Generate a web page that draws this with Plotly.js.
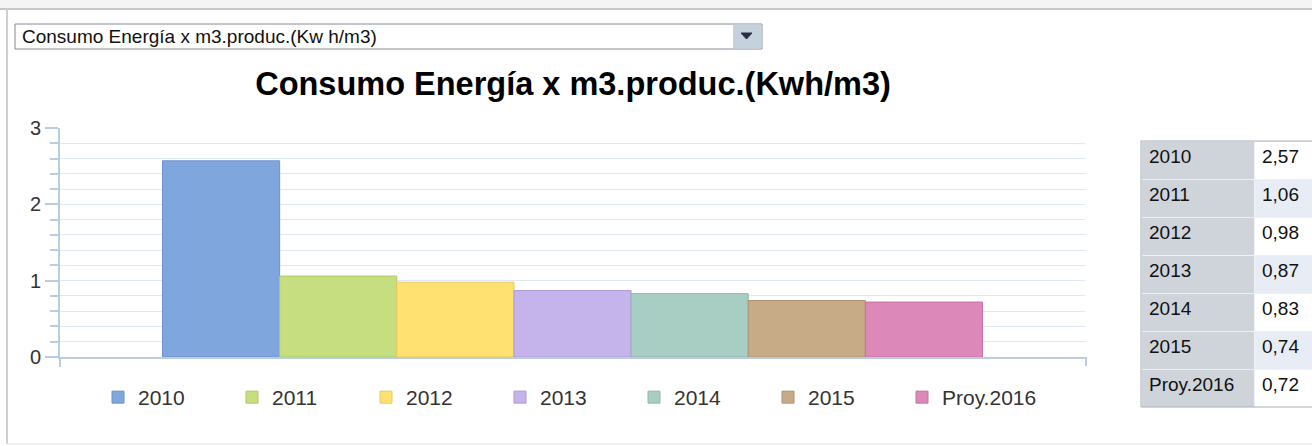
<!DOCTYPE html>
<html>
<head>
<meta charset="utf-8">
<script src="https://cdn.plot.ly/plotly-3.0.1.min.js"></script>
<style>
html,body{margin:0;padding:0;background:#fff;}
#chart{width:1312px;height:446px;}
</style>
</head>
<body>
<div id="chart"></div>
<script>
// ---- data ----
const years = ["2010", "2011", "2012", "2013", "2014", "2015", "Proy.2016"];
const values = [2.57, 1.06, 0.98, 0.87, 0.83, 0.74, 0.72];
const valueLabels = ["2,57", "1,06", "0,98", "0,87", "0,83", "0,74", "0,72"];
const barColors = ["#7fa7dd", "#c6dd80", "#fee170", "#c5b3ec", "#a8cdc3", "#c7aa86", "#dc88b9"];
const barLines = ["#6c93cb", "#afc86a", "#e6c95e", "#ad9ad6", "#90b7ac", "#ae9270", "#c672a3"];
const chartTitle = "Consumo Energía x m3.produc.(Kwh/m3)";
const selectorText = "Consumo Energía x m3.produc.(Kw h/m3)";
const yTicks = [0, 1, 2, 3];

const W = 1312, H = 446;
const px = x => x / W;
const py = y => 1 - y / H;
const FONT = "Liberation Sans, Arial, sans-serif";

const traces = years.map((yr, i) => ({
  type: "bar",
  name: yr,
  x: [""],
  y: [values[i]],
  marker: { color: barColors[i], line: { color: barLines[i], width: 1 } },
  hoverinfo: "name+y",
  xaxis: "x", yaxis: "y"
}));

// table: first row is used as the header so no empty header row appears
const rightFill = years.map((_, i) => (i % 2 === 0 ? "#ffffff" : "#e8edf5"));
const leftFill = years.map(() => "#cfd4da");
const cellFont = { family: FONT, size: 19, color: "#111" };
traces.push({
  type: "table",
  domain: { x: [px(1141), 1], y: [py(407), py(141)] },
  columnwidth: [113, 58],
  header: {
    values: [[years[0]], [valueLabels[0]]],
    height: 38,
    align: ["left", "left"],
    fill: { color: [leftFill[0], rightFill[0]] },
    line: { color: "#eef0f3", width: 1 },
    font: cellFont
  },
  cells: {
    values: [years.slice(1), valueLabels.slice(1)],
    height: 38,
    align: ["left", "left"],
    fill: { color: [leftFill.slice(1), rightFill.slice(1)] },
    line: { color: "#eef0f3", width: 1 },
    font: cellFont
  }
});

const axisCol = "#b9cce0";
const layout = {
  width: W, height: H,
  margin: { l: 0, r: 0, t: 0, b: 0 },
  paper_bgcolor: "#ffffff", plot_bgcolor: "rgba(0,0,0,0)",
  font: { family: FONT, color: "#333" },
  title: {
    text: "<b>" + chartTitle + "</b>",
    x: px(573), xanchor: "center", xref: "paper",
    y: py(84), yanchor: "middle", yref: "paper",
    font: { family: FONT, size: 32.5, color: "#000" }
  },
  barmode: "group", bargap: 0.2, bargroupgap: 0,
  showlegend: true,
  legend: {
    orientation: "h", x: px(98), xanchor: "left", y: py(377), yanchor: "top",
    entrywidth: 89, entrywidthmode: "pixels",
    font: { size: 21, color: "#333" },
    bgcolor: "rgba(0,0,0,0)", traceorder: "normal"
  },
  xaxis: {
    domain: [px(60), px(1085)],
    showticklabels: false, ticks: "",
    showline: true, linecolor: axisCol, linewidth: 2,
    showgrid: false, zeroline: false, fixedrange: true
  },
  yaxis: {
    domain: [py(357), py(128)],
    range: [0, 3], tickmode: "array", tickvals: yTicks, ticktext: yTicks.map(String),
    ticks: "outside", ticklen: 13, tickwidth: 2, tickcolor: axisCol,
    showline: true, linecolor: axisCol, linewidth: 2,
    showgrid: true, gridcolor: "#dfe8f3", gridwidth: 1,
    zeroline: false,
    tickfont: { size: 20, color: "#333" },
    minor: { dtick: 0.2, ticks: "outside", ticklen: 8, tickwidth: 2, tickcolor: axisCol, showgrid: true, gridcolor: "#dfe8f3", gridwidth: 1 },
    fixedrange: true
  },
  shapes: [
    // outer frame
    { type: "rect", xref: "paper", yref: "paper", x0: 0, x1: 1, y0: py(9), y1: 1, fillcolor: "#f4f4f4", line: { width: 0 }, layer: "below" },
    { type: "line", xref: "paper", yref: "paper", x0: 0, x1: 1, y0: py(9), y1: py(9), line: { color: "#c6c6c6", width: 2 } },
    { type: "line", xref: "paper", yref: "paper", x0: px(7), x1: px(7), y0: py(9), y1: py(444), line: { color: "#cfcfcf", width: 2 } },
    { type: "line", xref: "paper", yref: "paper", x0: px(7), x1: 1, y0: py(444), y1: py(444), line: { color: "#e2e2e2", width: 1 } },
    // axis extensions
    { type: "line", xref: "paper", yref: "paper", x0: px(60), x1: px(60), y0: py(357), y1: py(367), line: { color: axisCol, width: 2 } },
    { type: "line", xref: "paper", yref: "paper", x0: px(1086), x1: px(1086), y0: py(357), y1: py(366), line: { color: axisCol, width: 2 } },
    // selector box
    { type: "rect", xref: "paper", yref: "paper", x0: px(15), x1: px(762), y0: py(49), y1: py(24), fillcolor: "#ffffff", line: { color: "#858a92", width: 1 } },
    { type: "rect", xref: "paper", yref: "paper", x0: px(733), x1: px(761.5), y0: py(48.5), y1: py(24.5), fillcolor: "#c6d1de", line: { width: 0 } },
    { type: "path", xref: "paper", yref: "paper",
      path: "M " + px(741) + "," + py(33) + " L " + px(752) + "," + py(33) + " L " + px(746.5) + "," + py(39) + " Z",
      fillcolor: "#2b2f45", line: { color: "#2b2f45", width: 1 } },
    // table outer border
    { type: "rect", xref: "paper", yref: "paper", x0: px(1141), x1: px(1320), y0: py(407), y1: py(141), line: { color: "#a9aeb5", width: 1 }, fillcolor: "rgba(0,0,0,0)" }
  ],
  annotations: [
    { text: selectorText, xref: "paper", yref: "paper", x: px(20), y: py(36.5), xanchor: "left", yanchor: "middle",
      showarrow: false, font: { family: FONT, size: 19, color: "#111" } }
  ]
};

Plotly.newPlot("chart", traces, layout, { displayModeBar: false, staticPlot: true });
</script>
</body>
</html>
